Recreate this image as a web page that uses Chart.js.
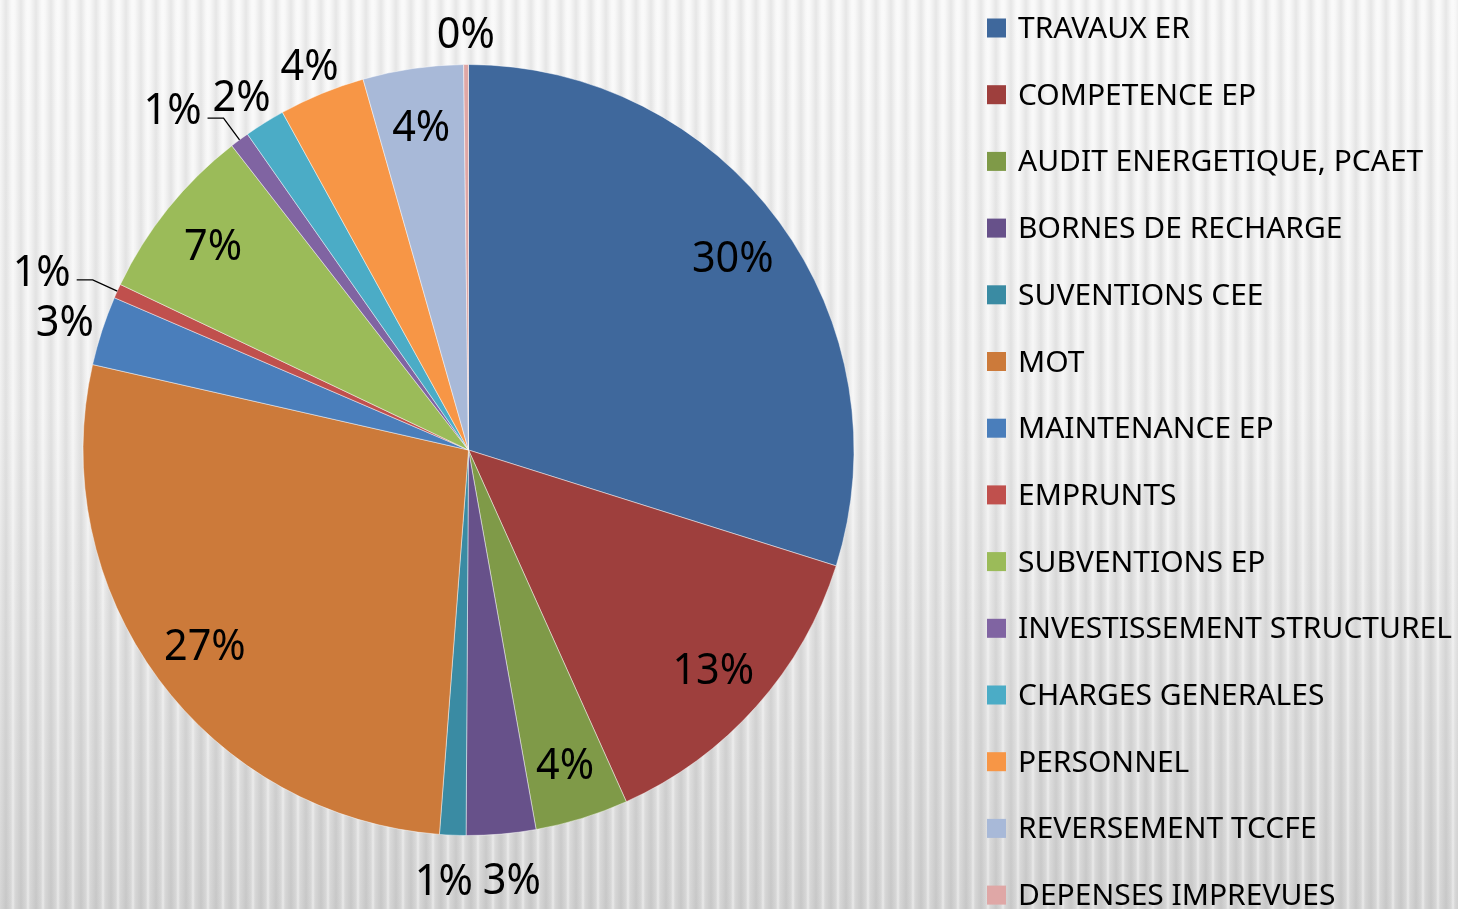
<!DOCTYPE html>
<html>
<head>
<meta charset="utf-8">
<script src="https://cdn.jsdelivr.net/npm/chart.js@4"></script>
<style>
  html, body { margin: 0; padding: 0; }
  body {
    width: 1458px; height: 909px; overflow: hidden;
    background:
      repeating-linear-gradient(90deg, rgba(0,0,0,0) 0px, rgba(0,0,0,0.07) 6px, rgba(0,0,0,0) 11px, rgba(255,255,255,0.45) 13px, rgba(0,0,0,0) 15px),
      linear-gradient(#f8f8f8 0%, #f1f1f1 45%, #e0e0e0 80%, #d6d6d6 100%);
  }
  canvas { display: block; }
</style>
</head>
<body>
<canvas id="myChart" width="1458" height="909"></canvas>
<script>
const labels = ['TRAVAUX ER', 'COMPETENCE EP', 'AUDIT ENERGETIQUE, PCAET', 'BORNES DE RECHARGE', 'SUVENTIONS CEE', 'MOT', 'MAINTENANCE EP', 'EMPRUNTS', 'SUBVENTIONS EP', 'INVESTISSEMENT STRUCTUREL', 'CHARGES GENERALES', 'PERSONNEL', 'REVERSEMENT TCCFE', 'DEPENSES IMPREVUES']
const values = [29.8, 13.4, 3.9, 2.9, 1.1, 27.3, 2.9, 0.6, 7.4, 0.8, 1.7, 3.6, 4.2, 0.2]
const colors = ['#3f689c', '#9e3f3d', '#7f9a48', '#67518a', '#3a8ba3', '#cc7a3a', '#4a7ebb', '#c0504d', '#9bbb59', '#8064a2', '#4bacc6', '#f79646', '#a8b9d8', '#dfa7a6']
const leaderIdx = [7, 9]

const total = values.reduce((a, b) => a + b, 0)
const pct = (v) => Math.round(v / total * 100) + '%'

const FONT = '"Noto Sans", sans-serif'

// percent labels, inside for big slices, outside for small ones
const pieLabels = {
  id: 'pieLabels',
  afterDatasetsDraw(chart) {
    const ctx = chart.ctx
    const meta = chart.getDatasetMeta(0)
    const size = 44
    const sx = 0.94
    ctx.save()
    ctx.font = size + 'px ' + FONT
    ctx.fillStyle = '#000'
    ctx.strokeStyle = '#000'
    ctx.textBaseline = 'alphabetic'
    ctx.textAlign = 'center'
    const capHalf = size * 0.714 / 2
    const items = []
    meta.data.forEach((arc, i) => {
      const p = arc.getProps(['x', 'y', 'startAngle', 'endAngle', 'outerRadius'], true)
      const mid = (p.startAngle + p.endAngle) / 2
      const c = Math.cos(mid), s = Math.sin(mid)
      const r = p.outerRadius
      const txt = pct(values[i])
      const w = ctx.measureText(txt).width * sx
      let it = { txt, w, outside: false }
      if (values[i] / total >= 0.038) {
        it.x = p.x + c * r * 0.85
        it.y = p.y + s * r * 0.85
      } else if (leaderIdx.includes(i)) {
        const ex = p.x + c * r, ey = p.y + s * r
        const bx = p.x + c * r * 1.07, by = p.y + s * r * 1.07
        ctx.lineWidth = 1.3
        ctx.beginPath()
        ctx.moveTo(ex, ey)
        ctx.lineTo(bx, by)
        ctx.lineTo(bx - 16, by)
        ctx.stroke()
        it.x = bx - 22 - w / 2
        it.y = by - 10
      } else {
        it.x = p.x + c * (r + 6) + c * (w / 2 + 4)
        it.y = p.y + s * (r + 6) + s * (s > 0 ? 38 : 26)
        it.outside = true
      }
      items.push(it)
    })
    // push apart outside labels that overlap
    const outs = items.filter(it => it.outside)
    for (let a = 0; a < outs.length; a++) {
      for (let b = a + 1; b < outs.length; b++) {
        const A = outs[a], B = outs[b]
        if (Math.abs(A.y - B.y) < 36) {
          const need = (A.w + B.w) / 2 + 10 - Math.abs(A.x - B.x)
          if (need > 0) {
            const sg = A.x > B.x ? 1 : -1
            A.x += sg * need / 2
            B.x -= sg * need / 2
          }
        }
      }
    }
    items.forEach(it => {
      ctx.save()
      ctx.translate(it.x, it.y + capHalf)
      ctx.scale(sx, 1)
      ctx.fillText(it.txt, 0, 0)
      ctx.restore()
    })
    ctx.restore()
  }
}

// legend on the right, one row per category
const sideLegend = {
  id: 'sideLegend',
  afterDraw(chart) {
    const ctx = chart.ctx
    const size = 29.5
    ctx.save()
    ctx.font = size + 'px ' + FONT
    const sx = 434 / ctx.measureText('INVESTISSEMENT STRUCTUREL').width
    ctx.textBaseline = 'alphabetic'
    ctx.textAlign = 'left'
    labels.forEach((lab, i) => {
      const y = 27.5 + i * 66.7
      ctx.fillStyle = colors[i]
      ctx.fillRect(987, y - 9, 19, 19)
      ctx.fillStyle = '#000'
      ctx.save()
      ctx.translate(1018, y + size * 0.714 / 2)
      ctx.scale(sx, 1)
      ctx.fillText(lab, 0, 0)
      ctx.restore()
    })
    ctx.restore()
  }
}

const chart = document.getElementById('myChart')
new Chart(chart, {
  type: 'pie',
  data: {
    labels: labels,
    datasets: [{
      data: values,
      backgroundColor: colors,
      borderColor: 'rgba(255,255,255,0.45)',
      borderWidth: 1
    }]
  },
  options: {
    responsive: false,
    animation: false,
    devicePixelRatio: 1,
    layout: { padding: { left: 82, right: 603, top: 64, bottom: 73 } },
    plugins: {
      legend: { display: false },
      tooltip: { enabled: false }
    }
  },
  plugins: [pieLabels, sideLegend]
})
</script>
</body>
</html>
